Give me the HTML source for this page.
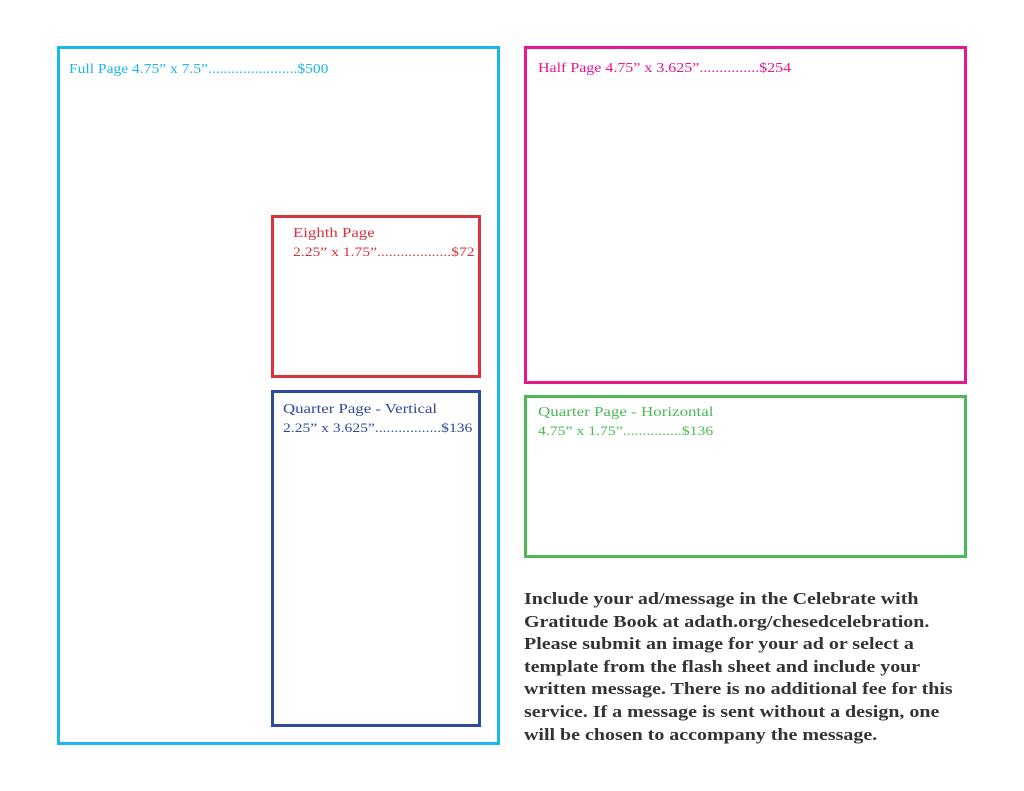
<!DOCTYPE html>
<html><head><meta charset="utf-8"><style>
body{margin:0;width:1024px;height:791px;background:#fff;position:relative;font-family:"Liberation Serif",serif;overflow:hidden}
.b{position:absolute;box-sizing:border-box;border:3px solid}
.t{position:absolute;font-size:14px;line-height:18px;white-space:nowrap;transform-origin:0 0}
</style></head><body>
<div class="b" style="left:57px;top:46px;width:443px;height:699px;border-color:#1ab7ea"></div>
<div class="t" style="left:69px;top:61px;color:#1ab7ea;transform:scaleX(1.11)">Full Page 4.75” x 7.5”.......................$500</div>
<div class="b" style="left:524px;top:46px;width:443px;height:338px;border-color:#e6168f"></div>
<div class="t" style="left:538px;top:60px;color:#e6168f;transform:scaleX(1.14)">Half Page 4.75” x 3.625”...............$254</div>
<div class="b" style="left:271px;top:215px;width:210px;height:163px;border-color:#d9333b"></div>
<div class="t" style="left:293px;top:225px;color:#d9333b;transform:scaleX(1.2)">Eighth Page<br><span style="font-size:13px">2.25” x 1.75”...................$72</span></div>
<div class="b" style="left:271px;top:390px;width:210px;height:337px;border-color:#2e4a9a"></div>
<div class="t" style="left:283px;top:401px;color:#2e4a9a;transform:scaleX(1.2)">Quarter Page - Vertical<br><span style="font-size:13px">2.25” x 3.625”.................$136</span></div>
<div class="b" style="left:524px;top:395px;width:443px;height:163px;border-color:#4cb857"></div>
<div class="t" style="left:538px;top:404px;color:#4cb857;transform:scaleX(1.21)">Quarter Page - Horizontal<br><span style="font-size:13px">4.75” x 1.75”...............$136</span></div>
<div style="position:absolute;left:524px;top:588px;width:450px;font-size:16.5px;line-height:22.6px;font-weight:bold;color:#333;white-space:nowrap;transform:scaleX(1.21);transform-origin:0 0">Include your ad/message in the Celebrate with<br>Gratitude Book at adath.org/chesedcelebration.<br>Please submit an image for your ad or select a<br>template from the flash sheet and include your<br>written message. There is no additional fee for this<br>service. If a message is sent without a design, one<br>will be chosen to accompany the message.</div>
</body></html>
